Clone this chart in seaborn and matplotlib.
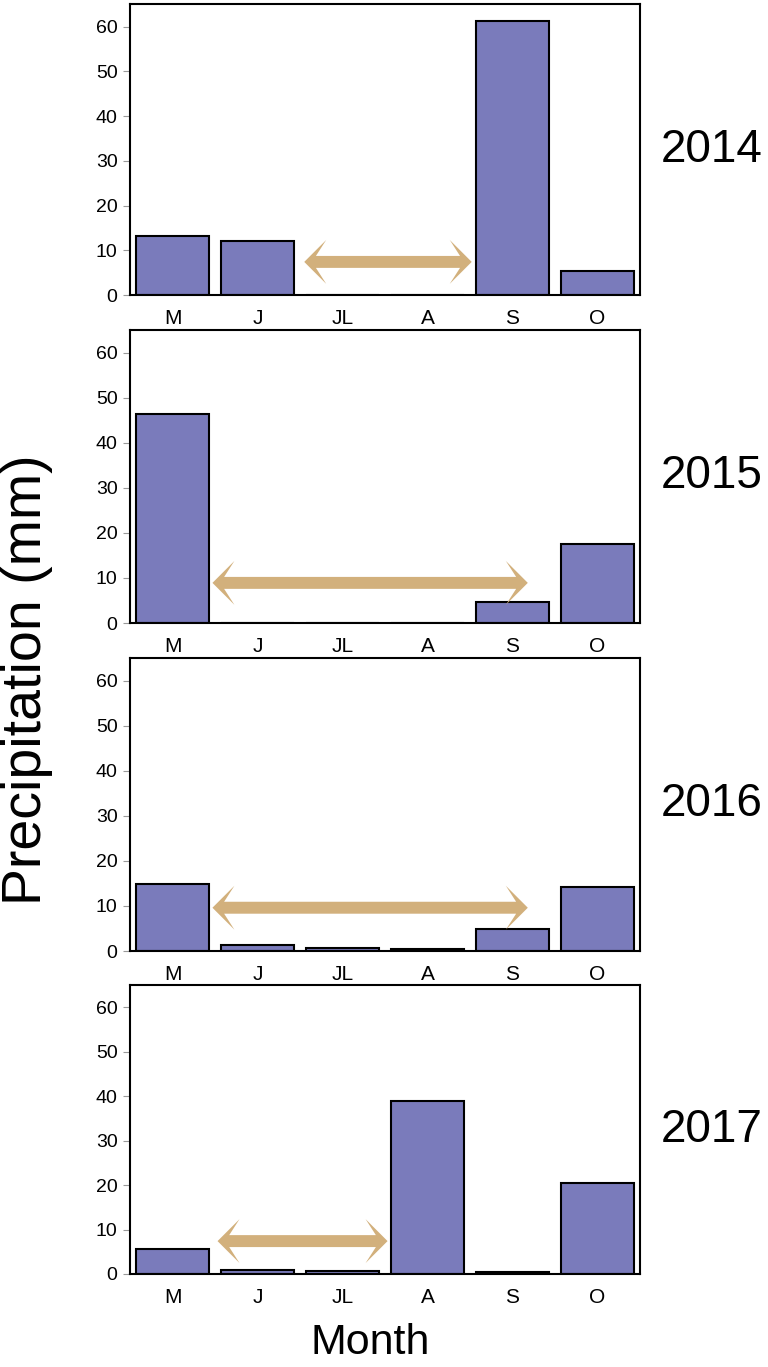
import matplotlib
matplotlib.use("Agg")
import matplotlib.pyplot as plt
import seaborn as sns
import pandas as pd
import numpy as np
from matplotlib.patches import FancyArrowPatch, ArrowStyle
from matplotlib.path import Path

months = ["M", "J", "JL", "A", "S", "O"]
years = ["2014", "2015", "2016", "2017"]
p2014 = [13.2, 12.0, 0.0, 0.0, 61.2, 5.4]
p2015 = [46.4, 0.0, 0.0, 0.0, 4.6, 17.6]
p2016 = [14.8, 1.25, 0.75, 0.45, 4.9, 14.1]
p2017 = [5.6, 0.9, 0.7, 38.9, 0.5, 20.5]
series = [p2014, p2015, p2016, p2017]

arrow_start = [1.55, 0.47, 0.47, 0.53]
arrow_end = [3.52, 4.18, 4.18, 2.53]
arrow_y = [7.4, 8.9, 9.6, 7.4]

yticks = [0, 10, 20, 30, 40, 50, 60]


class SweptDouble(ArrowStyle._Base):
    """Double-headed filled arrow with swept-back barbs."""

    def __init__(self, head_length=15.8, head_width=15.8, notch=8.4, tail_width=4.3):
        self.head_length = head_length
        self.head_width = head_width
        self.notch = notch
        self.tail_width = tail_width
        super().__init__()

    def transmute(self, path, mutation_size, linewidth):
        p0 = np.asarray(path.vertices[0], float)
        p1 = np.asarray(path.vertices[-1], float)
        d = p1 - p0
        u = d / np.hypot(*d)
        v = np.array([-u[1], u[0]])
        L = self.head_length * mutation_size
        hw = self.head_width * mutation_size
        n = self.notch * mutation_size
        sw = self.tail_width * mutation_size
        verts = [p0,
                 p0 + L * u + hw * v,
                 p0 + n * u + sw * v,
                 p1 - n * u + sw * v,
                 p1 - L * u + hw * v,
                 p1,
                 p1 - L * u - hw * v,
                 p1 - n * u - sw * v,
                 p0 + n * u - sw * v,
                 p0 + L * u - hw * v,
                 p0]
        codes = [Path.MOVETO] + [Path.LINETO] * 9 + [Path.CLOSEPOLY]
        return Path(verts, codes), True


sns.set_theme(style="white")
plt.rcParams["font.family"] = ["Liberation Sans", "DejaVu Sans"]

W, H = 768, 1367
fig = plt.figure(figsize=(W / 100, H / 100), dpi=100)

panels_px = [(4.3, 295), (330, 623), (658, 951), (985, 1274)]
left_px, right_px = 130, 640

bar_color = "#7A7BBB"
arrow_color = "#D2B07C"

for i, (top, bot) in enumerate(panels_px):
    ax = fig.add_axes([left_px / W, 1 - bot / H, (right_px - left_px) / W, (bot - top) / H])
    df = pd.DataFrame({"month": months, "precip": series[i]})
    sns.barplot(data=df, x="month", y="precip", color=bar_color, saturation=1,
                edgecolor="black", linewidth=1.5, width=0.85, ax=ax, order=months)
    ax.set_ylim(0, 65)
    ax.set_xlim(-0.5, 5.5)
    ax.set_yticks(yticks)
    ax.set_xlabel("")
    ax.set_ylabel("")
    for s in ax.spines.values():
        s.set_color("black")
        s.set_linewidth(1.5)
    ax.tick_params(axis="y", which="major", length=5, width=0.8, color="#999999",
                   labelsize=14, pad=4, left=True, labelcolor="black")
    ax.tick_params(axis="x", length=0, labelsize=15, pad=10, labelcolor="black")
    arr = FancyArrowPatch((arrow_start[i], arrow_y[i]), (arrow_end[i], arrow_y[i]),
                          arrowstyle=SweptDouble(), mutation_scale=1,
                          color=arrow_color, lw=0, shrinkA=0, shrinkB=0, zorder=3)
    ax.add_patch(arr)
    ax.text(1.14, 0.5, years[i], transform=ax.transAxes, ha="center", va="center",
            fontsize=33, color="black")

fig.text(27 / W, 1 - 680 / H, "Precipitation (mm)", rotation=90, ha="center", va="center",
         fontsize=40, color="black")
fig.text(370 / W, 1 - 1343 / H, "Month", ha="center", va="center", fontsize=31, color="black")

fig.savefig("out.png", dpi=100)
